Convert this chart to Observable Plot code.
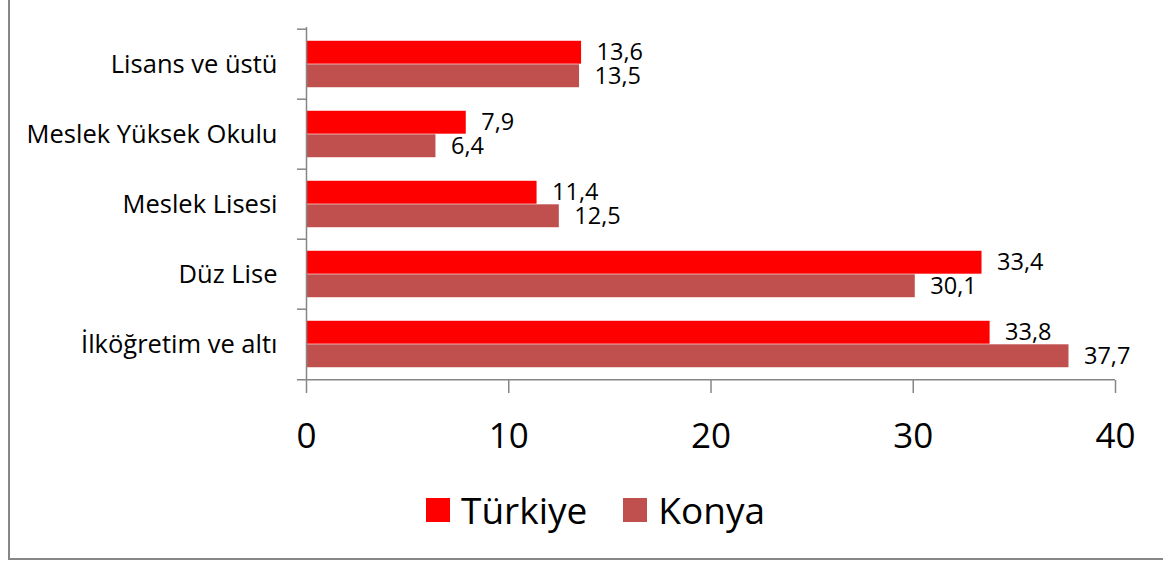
<!DOCTYPE html>
<html><head><meta charset="utf-8">
<script src="https://cdn.jsdelivr.net/npm/d3@7"></script>
<script src="https://cdn.jsdelivr.net/npm/@observablehq/plot@0.6"></script>
<style>
body{margin:0;background:#fff;font-family:"Open Sans",sans-serif;}
#wrap{position:relative;width:1163px;height:562px;overflow:hidden;background:#fff;}
#border{position:absolute;left:8px;top:-5px;width:1170px;height:565px;border-left:2px solid #878787;border-bottom:2px solid #878787;box-sizing:border-box;}
#chart{position:absolute;left:0;top:0;}
#legend{position:absolute;left:426px;top:486px;display:flex;align-items:center;font-size:37px;color:#000;line-height:48px;}
.sw{width:24px;height:24px;margin-right:11px;}
.item{display:flex;align-items:center;margin-right:36px;}
</style></head>
<body>
<div id="wrap"><div id="border"></div><div id="chart"></div><div id="legend"></div></div>
<script>
const categories = ["Lisans ve üstü", "Meslek Yüksek Okulu", "Meslek Lisesi", "Düz Lise", "İlköğretim ve altı"];
const turkiye = [13.6, 7.9, 11.4, 33.4, 33.8];
const konya = [13.5, 6.4, 12.5, 30.1, 37.7];
const seriesNames = ["Türkiye", "Konya"];
const seriesColors = ["#FF0000", "#C0504D"];
const xTicks = [0, 10, 20, 30, 40];

const rows = categories.flatMap((c, i) => [
  {cat: c, series: seriesNames[0], value: turkiye[i]},
  {cat: c, series: seriesNames[1], value: konya[i]}
]);
const tr = rows.filter(d => d.series === seriesNames[0]);
const ko = rows.filter(d => d.series === seriesNames[1]);

const W = 1163, H = 470, mt = 27, mb = 90, ml = 306, mr = 48;
const step = (H - mt - mb) / categories.length;
const barH = step / 3, pad = step / 6;
const fmt = v => String(v).replace(".", ",");
const gray = "#868686";

const chart = Plot.plot({
  width: W, height: H,
  marginTop: mt, marginBottom: mb, marginLeft: ml, marginRight: mr,
  style: {fontFamily: "'Open Sans', sans-serif", background: "transparent"},
  x: {domain: [0, 40], label: null},
  y: {domain: categories, padding: 0, label: null},
  color: {domain: seriesNames, range: seriesColors},
  marks: [
    Plot.barX(tr, {y: "cat", x: "value", fill: "series", insetTop: pad, insetBottom: pad + barH}),
    Plot.barX(ko, {y: "cat", x: "value", fill: "series", insetTop: pad + barH, insetBottom: pad}),
    Plot.text(tr, {y: "cat", x: "value", text: d => fmt(d.value), textAnchor: "start", dx: 15, dy: -barH / 2, fontSize: 23.5, fill: "black"}),
    Plot.text(ko, {y: "cat", x: "value", text: d => fmt(d.value), textAnchor: "start", dx: 15, dy: barH / 2, fontSize: 23.5, fill: "black"}),
    Plot.ruleY(categories, {y: d => d, dy: -step / 2, x1: 0, x2: 0, insetLeft: -9, stroke: gray, strokeWidth: 1.5}),
    Plot.ruleY(categories.slice(-1), {y: d => d, dy: step / 2, insetLeft: -9, stroke: gray, strokeWidth: 1.5}),
    Plot.ruleX([0], {stroke: gray, strokeWidth: 1.5}),
    Plot.axisX({ticks: xTicks, tickSize: 13, tickPadding: 30, fontSize: 35, stroke: gray, strokeWidth: 1.5, fill: "black", label: null}),
    Plot.axisY({tickSize: 0, tickPadding: 29, fontSize: 25.5, fill: "black", label: null})
  ]
});
document.getElementById("chart").appendChild(chart);

const legend = document.getElementById("legend");
seriesNames.forEach((name, i) => {
  const item = document.createElement("div");
  item.className = "item";
  const sw = document.createElement("div");
  sw.className = "sw";
  sw.style.background = seriesColors[i];
  const t = document.createElement("span");
  t.textContent = name;
  item.appendChild(sw); item.appendChild(t);
  legend.appendChild(item);
});
</script>
</body></html>
